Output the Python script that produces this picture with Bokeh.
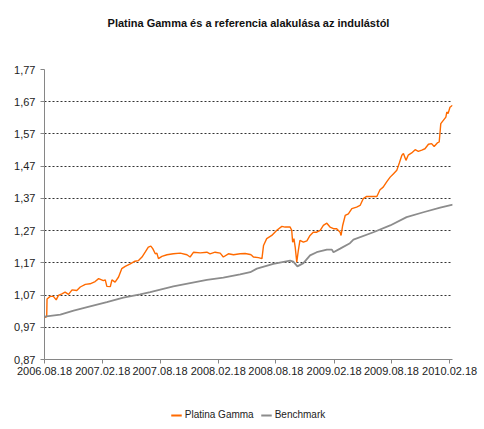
import numpy as np
import pandas as pd
from bokeh.plotting import figure
from bokeh.layouts import column
from bokeh.core.properties import value
from bokeh.models import (FixedTicker, DatetimeTickFormatter, CustomJSTickFormatter,
                          Range1d, Legend, LegendItem)
from bokeh.embed import file_html
from bokeh.resources import INLINE

TITLE = "Platina Gamma és a referencia alakulása az indulástól"
START = "2006-08-18"

tick_labels = ["2006-08-18", "2007-02-18", "2007-08-18", "2008-02-18",
               "2008-08-18", "2009-02-18", "2009-08-18", "2010-02-18"]
y_ticks = [0.87, 0.97, 1.07, 1.17, 1.27, 1.37, 1.47, 1.57, 1.67, 1.77]
series_names = ["Platina Gamma", "Benchmark"]

# Platina Gamma: days since start, value
pg_days = [0, 7, 8, 18, 28, 37, 44, 55, 65, 76,
           87, 102, 113, 129, 144, 160, 171, 186, 192, 197,
           208, 213, 223, 234, 244, 255, 271, 286, 297, 308,
           318, 328, 336, 342, 350, 355, 360, 371, 387, 407,
           429, 450, 460, 471, 492, 513, 523, 539, 555, 565,
           581, 597, 618, 634, 650, 655, 660, 676, 687, 692,
           702, 718, 734, 750, 760, 776, 781, 784, 788, 792,
           797, 802, 807, 818, 829, 839, 849, 860, 871, 881,
           892, 902, 913, 923, 934, 937, 942, 950, 960, 971,
           986, 997, 1007, 1018, 1050, 1060, 1070, 1081, 1092, 1102,
           1113, 1121, 1129, 1134, 1142, 1149, 1160, 1171, 1181, 1192,
           1202, 1213, 1223, 1231, 1241, 1247, 1252, 1260, 1268, 1271,
           1275, 1281, 1289]
pg_vals = [1.000, 1.003, 1.058, 1.066, 1.066, 1.055, 1.069, 1.074, 1.079, 1.072,
           1.086, 1.084, 1.095, 1.103, 1.105, 1.112, 1.121, 1.115, 1.117, 1.097,
           1.096, 1.117, 1.110, 1.126, 1.152, 1.159, 1.167, 1.175, 1.177, 1.188,
           1.203, 1.219, 1.222, 1.214, 1.198, 1.200, 1.183, 1.190, 1.195, 1.198,
           1.200, 1.195, 1.188, 1.203, 1.201, 1.203, 1.198, 1.203, 1.200, 1.188,
           1.198, 1.195, 1.198, 1.199, 1.196, 1.193, 1.188, 1.186, 1.183, 1.224,
           1.245, 1.255, 1.271, 1.283, 1.281, 1.281, 1.271, 1.234, 1.245, 1.219,
           1.172, 1.209, 1.240, 1.234, 1.238, 1.255, 1.265, 1.265, 1.271, 1.286,
           1.293, 1.281, 1.276, 1.276, 1.265, 1.255, 1.286, 1.317, 1.322, 1.338,
           1.343, 1.348, 1.369, 1.376, 1.376, 1.397, 1.405, 1.421, 1.436, 1.446,
           1.457, 1.480, 1.504, 1.509, 1.488, 1.504, 1.511, 1.521, 1.516, 1.520,
           1.524, 1.538, 1.540, 1.531, 1.542, 1.545, 1.602, 1.612, 1.622, 1.638,
           1.633, 1.653, 1.659]

# Benchmark
bm_days = [0, 50, 92, 144, 197, 249, 302, 334, 407, 513,
           565, 618, 650, 671, 723, 776, 786, 799, 818, 839,
           860, 892, 908, 913, 934, 965, 976, 1039, 1092, 1144,
           1197, 1250, 1290]
bm_vals = [1.003, 1.009, 1.022, 1.035, 1.048, 1.062, 1.072, 1.079, 1.097, 1.117,
           1.124, 1.134, 1.141, 1.152, 1.167, 1.177, 1.174, 1.159, 1.169, 1.193,
           1.203, 1.211, 1.211, 1.203, 1.214, 1.231, 1.242, 1.265, 1.286, 1.312,
           1.327, 1.341, 1.351]

start = pd.Timestamp(START)
pg_x = [start + pd.Timedelta(days=d) for d in pg_days]
bm_x = [start + pd.Timedelta(days=d) for d in bm_days]
ticks_ms = [pd.Timestamp(t).value // 10**6 for t in tick_labels]
x_end = start + pd.Timedelta(days=1289)

FONT = "Liberation Sans, Arial, sans-serif"
ORANGE = "#FF6A00"
GREY = "#8C8C8C"
W = 484

# ---- title strip ----
pt = figure(width=W, height=44, x_range=Range1d(0, 1), y_range=Range1d(0, 1),
            x_axis_location=None, y_axis_location=None,
            output_backend="svg", toolbar_location=None,
            min_border_left=44, min_border_right=32, min_border_top=0, min_border_bottom=0)
pt.outline_line_color = None
pt.grid.visible = False
pt.text(x=[0.5], y=[0.5], text=[TITLE], text_align="center", text_baseline="middle",
        text_font=value(FONT), text_font_size="11px", text_font_style="bold",
        text_color="#111111")

# ---- main chart ----
p = figure(width=W, height=356, x_axis_type="datetime",
           output_backend="svg", toolbar_location=None,
           x_range=Range1d(start, x_end), y_range=Range1d(0.87, 1.77),
           min_border_left=44, min_border_right=32,
           min_border_top=25, min_border_bottom=41)
p.outline_line_color = None
p.background_fill_color = "white"

xa = p.xaxis[0]
ya = p.yaxis[0]
xa.ticker = FixedTicker(ticks=ticks_ms)
fmt = "%Y.%m.%d"
xa.formatter = DatetimeTickFormatter(milliseconds=fmt, seconds=fmt, minsec=fmt,
                                     minutes=fmt, hourmin=fmt, hours=fmt,
                                     days=fmt, months=fmt, years=fmt)
ya.ticker = FixedTicker(ticks=y_ticks)
ya.formatter = CustomJSTickFormatter(code="return tick.toFixed(2).replace('.', ',');")
for ax in (xa, ya):
    ax.axis_line_color = "#868686"
    ax.major_tick_line_color = "#868686"
    ax.minor_tick_line_color = None
    ax.major_tick_in = 0
    ax.major_tick_out = 4
    ax.major_label_text_font = FONT
    ax.major_label_text_font_size = "11px"
    ax.major_label_text_color = "#222222"
xa.major_label_standoff = 3
ya.major_label_standoff = 5

p.xgrid.visible = False
p.ygrid.ticker = FixedTicker(ticks=y_ticks)
p.ygrid.grid_line_color = "#333333"
p.ygrid.grid_line_dash = "2 2"
p.ygrid.grid_line_width = 1

p.line(pg_x, pg_vals, line_color=ORANGE, line_width=1.4)
p.line(bm_x, bm_vals, line_color=GREY, line_width=1.8)

# ---- legend strip (series drawn off-view, only their legend swatches show) ----
pl = figure(width=W, height=29, x_range=Range1d(0, 1), y_range=Range1d(-1, 0),
            x_axis_location=None, y_axis_location=None,
            output_backend="svg", toolbar_location=None,
            min_border_left=44, min_border_right=32, min_border_top=0, min_border_bottom=0)
pl.outline_line_color = None
pl.grid.visible = False
l1 = pl.line(x=pg_days, y=pg_vals, line_color=ORANGE, line_width=2)
l2 = pl.line(x=bm_days, y=bm_vals, line_color=GREY, line_width=2)
legend = Legend(items=[LegendItem(label=series_names[0], renderers=[l1]),
                       LegendItem(label=series_names[1], renderers=[l2])],
                location="center", orientation="horizontal",
                border_line_color=None, background_fill_alpha=0,
                padding=0, margin=0, spacing=7, label_standoff=3,
                glyph_width=11, glyph_height=12, label_height=12,
                label_text_font=FONT, label_text_font_size="10px",
                label_text_color="#222222")
pl.add_layout(legend)

layout = column(pt, p, pl, spacing=0)
open("out.html", "w").write(file_html(layout, INLINE))
